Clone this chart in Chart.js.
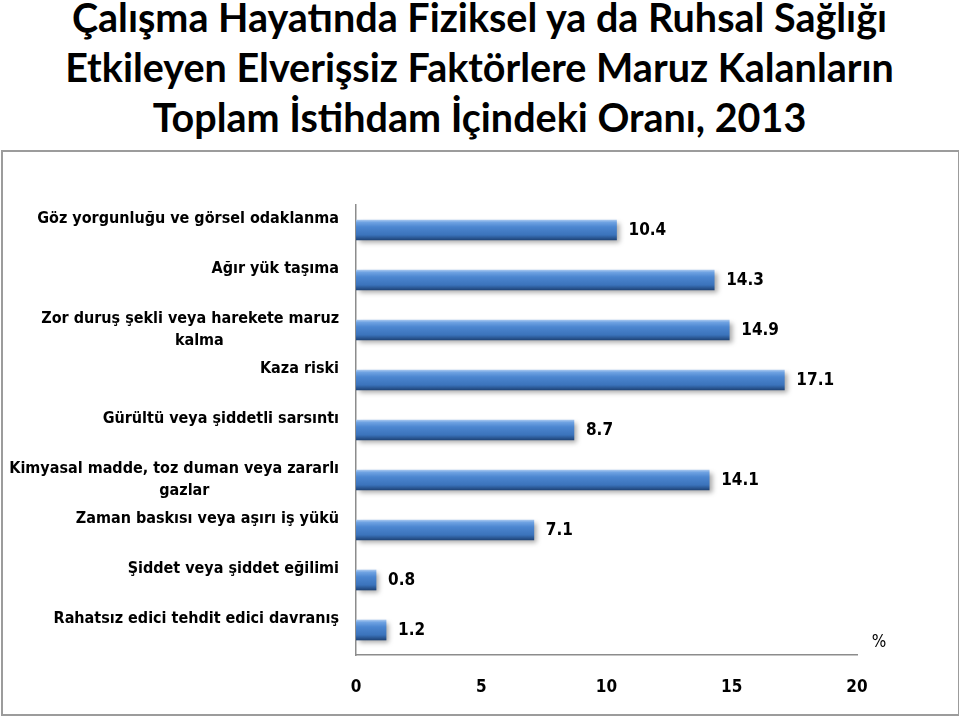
<!DOCTYPE html>
<html>
<head>
<meta charset="utf-8">
<script src="https://cdn.jsdelivr.net/npm/chart.js@4.4.0/dist/chart.umd.min.js"></script>
<style>
  html, body { margin:0; padding:0; background:#fff; width:959px; height:716px; overflow:hidden; }
  #title { position:absolute; left:0; top:-8px; width:959px; text-align:center;
    font-family: Lato, "Open Sans", sans-serif; font-weight:700; font-size:39.5px; line-height:50px; color:#000; }
  #title div { white-space:nowrap; }
  #box { position:absolute; left:1px; top:150px; width:955px; height:562px; border:2px solid #9c9c9c; }
  canvas { display:block; }
</style>
</head>
<body>
<div id="title">
  <div>Çalışma Hayatında Fiziksel ya da Ruhsal Sağlığı</div>
  <div>Etkileyen Elverişsiz Faktörlere Maruz Kalanların</div>
  <div>Toplam İstihdam İçindeki Oranı, 2013</div>
</div>
<div id="box"><canvas id="c" width="955" height="562"></canvas></div>
<script>
const categories = [
  ["Göz yorgunluğu ve görsel odaklanma", ""],
  ["Ağır yük taşıma", ""],
  ["Zor duruş şekli veya harekete maruz", "kalma\u2003\u2003\u2003\u2003\u2003\u2003\u2003\u2003"],
  ["Kaza riski", ""],
  ["Gürültü veya şiddetli sarsıntı", ""],
  ["Kimyasal madde, toz duman veya zararlı", "gazlar\u2003\u2003\u2003\u2003\u2003\u2003\u2003\u2003\u2003"],
  ["Zaman baskısı veya aşırı iş yükü", ""],
  ["Şiddet veya şiddet eğilimi", ""],
  ["Rahatsız edici tehdit edici davranış", ""]
];
const values = [10.4, 14.3, 14.9, 17.1, 8.7, 14.1, 7.1, 0.8, 1.2];
const xTicks = [0, 5, 10, 15, 20];
const unitLabel = "%";

const NARROW = '"Liberation Sans Narrow", "DejaVu Sans Condensed", "Arial Narrow", sans-serif';

const shadowPlugin = {
  id: 'barShadow',
  beforeDatasetsDraw(chart) {
    const ctx = chart.ctx;
    ctx.save();
    ctx.shadowColor = 'rgba(0,0,0,0.35)';
    ctx.shadowBlur = 5;
    ctx.shadowOffsetX = 3;
    ctx.shadowOffsetY = 3;
  },
  afterDatasetsDraw(chart) {
    const ctx = chart.ctx;
    ctx.restore();
    const meta = chart.getDatasetMeta(0);
    ctx.save();
    ctx.font = 'bold 17px ' + NARROW;
    ctx.fillStyle = '#000';
    ctx.textAlign = 'left';
    ctx.textBaseline = 'middle';
    meta.data.forEach((el, i) => {
      ctx.fillText(values[i].toFixed(1), el.x + 12, el.y + 1);
    });
    ctx.font = '17px ' + NARROW;
    ctx.textAlign = 'center';
    ctx.fillText(unitLabel, chart.chartArea.right + 22, chart.chartArea.bottom - 12);
    ctx.restore();
  }
};

function barFill(context) {
  const chart = context.chart;
  if (!chart.chartArea || !chart.scales.y) return '#4a86cf';
  const y = chart.scales.y.getPixelForValue(context.dataIndex);
  const h = 20;
  const g = chart.ctx.createLinearGradient(0, y - h / 2, 0, y + h / 2);
  g.addColorStop(0, '#a6c6ee');
  g.addColorStop(0.12, '#6ea2e2');
  g.addColorStop(0.35, '#4c86d0');
  g.addColorStop(0.75, '#3b73bb');
  g.addColorStop(1, '#1f4478');
  return g;
}

new Chart(document.getElementById('c'), {
  type: 'bar',
  data: {
    labels: categories,
    datasets: [{
      data: values,
      backgroundColor: barFill,
      borderWidth: 0,
      barThickness: 20
    }]
  },
  options: {
    indexAxis: 'y',
    responsive: false,
    animation: false,
    layout: { padding: { top: 53, right: 101, left: 0, bottom: 0 } },
    plugins: { legend: { display: false }, tooltip: { enabled: false }, title: { display: false } },
    scales: {
      x: {
        min: 0, max: 20,
        afterBuildTicks(scale) { scale.ticks = xTicks.map(v => ({ value: v })); },
        afterFit(scale) { scale.height = 59; },
        grid: { display: false, drawTicks: false },
        border: { display: true, color: '#8c8c8c', width: 1.5 },
        ticks: { padding: 22, color: '#000', font: { family: NARROW, size: 17, weight: 'bold' }, maxRotation: 0 }
      },
      y: {
        afterFit(scale) { scale.width = 353; },
        grid: { display: false, drawTicks: false },
        border: { display: true, color: '#8c8c8c', width: 1.5 },
        ticks: { padding: 17, color: '#000', autoSkip: false, font: { family: NARROW, size: 16, weight: 'bold', lineHeight: 1.4 } }
      }
    }
  },
  plugins: [shadowPlugin]
});
</script>
</body>
</html>
